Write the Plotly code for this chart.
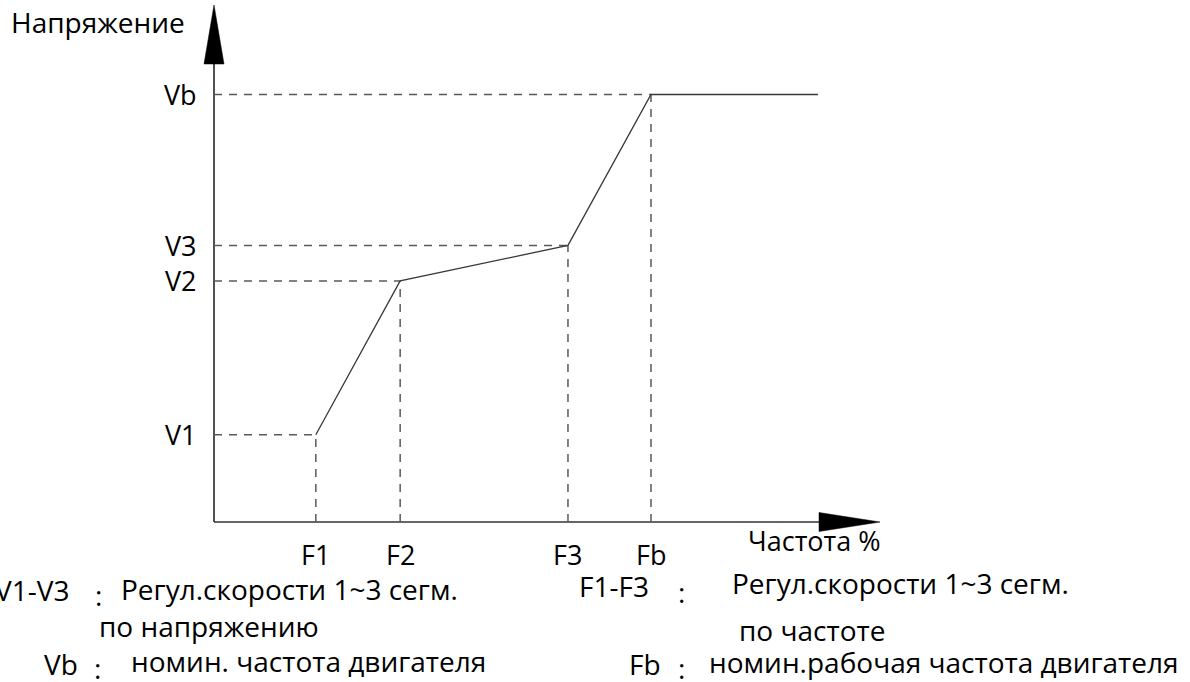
import plotly.graph_objects as go

# ---- data (abstract units: Fb = 100 % frequency, Vb = 100 % voltage) ----
freq_labels = ["F1", "F2", "F3", "Fb"]
freq_values = [23.3, 42.6, 81.0, 100.0]
volt_labels = ["V1", "V2", "V3", "Vb"]
volt_values = [20.4, 56.4, 64.7, 100.0]
freq_end = 138.2          # end of the flat segment after Fb

y_axis_title = "Напряжение"
x_axis_title = "Частота %"

# ---- pixel <-> data scale (layout) ----
W, H = 1190, 682
OX, OY = 214.0, 522.0       # origin pixel
SX, SY = 4.37, 4.275        # pixels per unit

def dx(px):
    return (px - OX) / SX

def dy(py):
    return (OY - py) / SY

fig = go.Figure()

AXIS_COLOR = "#333333"
LINE_COLOR = "#383838"
DASH_COLOR = "#5a5a5a"

# axis lines
x_arrow_base, x_arrow_tip = dx(819), dx(880)
y_arrow_base, y_arrow_tip = dy(64), dy(5)
fig.add_trace(go.Scatter(x=[0, 0, None, 0, x_arrow_base], y=[0, y_arrow_base, None, 0, 0],
                         mode="lines", line=dict(color=AXIS_COLOR, width=1.7),
                         hoverinfo="skip"))
# arrow heads
hw = 10 / SX
hh = 9.5 / SY
fig.add_trace(go.Scatter(x=[-hw, hw, 0, -hw], y=[y_arrow_base, y_arrow_base, y_arrow_tip, y_arrow_base],
                         mode="lines", fill="toself", fillcolor="black",
                         line=dict(color="black", width=0.5), hoverinfo="skip"))
fig.add_trace(go.Scatter(x=[x_arrow_base, x_arrow_base, x_arrow_tip, x_arrow_base], y=[-hh, hh, 0, -hh],
                         mode="lines", fill="toself", fillcolor="black",
                         line=dict(color="black", width=0.5), hoverinfo="skip"))

# dashed guide lines
gx, gy = [], []
for f, v in zip(freq_values, volt_values):
    gx += [0, f, None, f, f, None]
    gy += [v, v, None, 0, v, None]
fig.add_trace(go.Scatter(x=gx, y=gy, mode="lines",
                         line=dict(color=DASH_COLOR, width=1.5, dash="8px,7px"),
                         hoverinfo="skip"))

# V/F curve
fig.add_trace(go.Scatter(x=freq_values + [freq_end], y=volt_values + [volt_values[-1]],
                         mode="lines", line=dict(color=LINE_COLOR, width=1.3),
                         hoverinfo="skip"))

FONT = "Open Sans, Noto Sans, DejaVu Sans, sans-serif"
FS = 27
FS2 = 28
ann = []
# tick labels
for lab, v in zip(volt_labels, volt_values):
    ann.append(dict(x=dx(199), y=v, xref="x", yref="y", text=lab, showarrow=False,
                    xanchor="right", yanchor="middle", font=dict(size=FS, color="black", family=FONT)))
for lab, f in zip(freq_labels, freq_values):
    ann.append(dict(x=f, y=dy(554), xref="x", yref="y", text=lab, showarrow=False,
                    xanchor="center", yanchor="middle", font=dict(size=FS, color="black", family=FONT)))

def ptext(text, px, py, anchor="left", size=FS2, yanchor="middle"):
    ann.append(dict(x=px / W, y=1 - py / H, xref="paper", yref="paper", text=text,
                    showarrow=False, xanchor=anchor, yanchor=yanchor,
                    font=dict(size=size, color="black", family=FONT)))

ptext(y_axis_title, 9, 22, size=28)
ptext(x_axis_title, 746, 540, size=27)

ptext("V1-V3", -7, 590)
ptext(":", 98, 595, "center")
ptext("Регул.скорости 1~3 сегм.", 119, 589)
ptext("по напряжению", 97, 626)
ptext("Vb", 42, 664)
ptext(":", 97, 668, "center")
ptext("номин. частота двигателя", 129, 661)

ptext("F1-F3", 577, 586)
ptext(":", 681, 592, "center")
ptext("Регул.скорости 1~3 сегм.", 730, 583)
ptext("по частоте", 737, 630)
ptext("Fb", 627, 664)
ptext(":", 681, 668, "center")
ptext("номин.рабочая частота двигателя", 707, 662)

fig.update_layout(
    width=W, height=H,
    margin=dict(l=0, r=0, t=0, b=0),
    paper_bgcolor="white", plot_bgcolor="white",
    showlegend=False,
    annotations=ann,
    xaxis=dict(visible=False, range=[dx(0), dx(W)], fixedrange=True),
    yaxis=dict(visible=False, range=[dy(H), dy(0)], fixedrange=True),
)

fig.write_html(
    "out.html",
    config={"displayModeBar": False},
    post_script="document.body.style.margin='0';document.body.style.padding='0';"
                "document.body.style.overflow='hidden';",
)
